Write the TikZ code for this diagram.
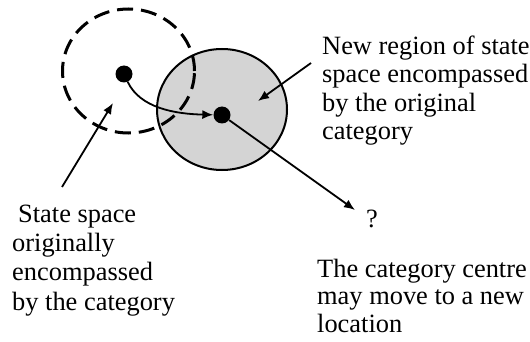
\documentclass[tikz,border=0pt]{standalone}
\usepackage{fontspec}
\setmainfont{Liberation Serif}
\usetikzlibrary{arrows.meta}
\definecolor{regiongray}{RGB}{212,212,212}
\begin{document}
\begin{tikzpicture}[x=1pt,y=-1pt,
  lbl/.style={anchor=north west,inner sep=0pt,align=left,font=\fontsize{26.4}{28.5}\selectfont},
  dotnode/.style={circle,fill=black,inner sep=0pt,minimum size=17pt},
  ptr/.style={line width=1.8pt,-{Latex[length=11pt,width=9pt]}},
]
\useasboundingbox (0,0) rectangle (530,342);
\fill[white] (0,0) rectangle (530,342);
% regions
\draw[line width=2pt, fill=regiongray] (222,109.5) ellipse [x radius=65pt, y radius=60.5pt];
\draw[line width=3pt, dash pattern=on 16pt off 8pt] (128.5,71) ellipse [x radius=66pt, y radius=62pt];
% category centres
\node[dotnode] (old) at (124,74) {};
\node[dotnode] (new) at (222,115) {};
% labels
\node[lbl] (newregion) at (322,35) {\rule{0pt}{19pt}New region of state\\space encompassed\\by the original\\category};
\node[lbl, font=\fontsize{26.4}{29.3}\selectfont] (statespace) at (12,203) {\rule{0pt}{19pt}\hspace*{6pt}State space\\originally\\encompassed\\by the category};
\node[lbl] (q) at (366,208) {\rule{0pt}{19pt}?};
\node[lbl, font=\fontsize{26.4}{27.5}\selectfont] (move) at (317,258) {\rule{0pt}{19pt}The category centre\\may move to a new\\location};
% pointer ends
\coordinate (p1) at (311,63);
\coordinate (p1tip) at (258,101);
\coordinate (p2) at (62,187);
\coordinate (p2tip) at (113,103);
\coordinate (p3tip) at (355,210);
% connectors
\draw[ptr] (p1) -- (p1tip);
\draw[ptr] (p2) -- (p2tip);
\draw[ptr] (new) -- (p3tip);
\draw[ptr] (old) .. controls (140,108) and (175,114) .. (new);
\end{tikzpicture}
\end{document}
